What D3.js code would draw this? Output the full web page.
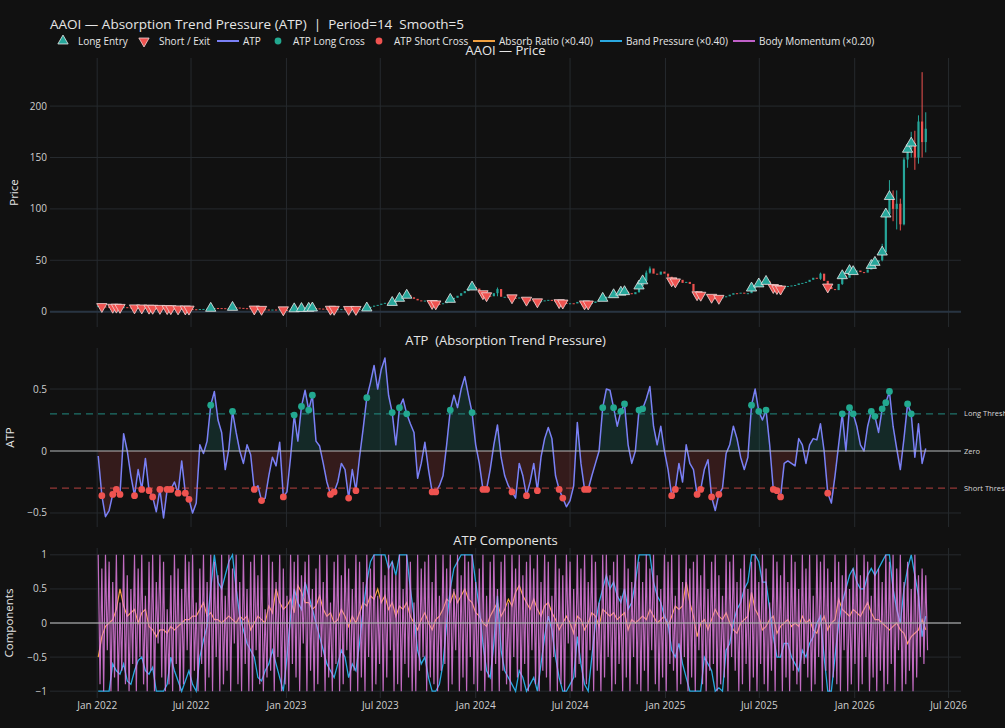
<!DOCTYPE html>
<html>
<head>
<meta charset="utf-8">
<script src="https://cdn.jsdelivr.net/npm/d3@7"></script>
<style>
html, body { margin: 0; padding: 0; background: #111111; }
svg { display: block; font-family: "Open Sans", Verdana, Arial, sans-serif; }
</style>
</head>
<body>
<svg id="chart" width="1005" height="728"></svg>
<script>
// ---- data (weekly samples, first week 2022-01-03) ----
var firstWeek = Date.UTC(2022, 0, 3);

var priceClose = [
  5.5,5.0,4.8,4.5,4.3,4.4,4.2,4.4,4.1,3.9,
  3.7,3.8,3.6,3.7,3.4,3.3,3.1,3.2,2.9,3.0,
  2.9,2.8,2.7,2.8,2.6,2.5,2.4,2.3,2.6,2.7,
  2.9,3.3,3.6,3.5,3.4,3.2,3.6,4.2,4.0,3.7,
  3.4,3.3,3.0,2.6,2.5,2.3,2.1,2.0,2.1,2.0,
  2.1,1.8,1.7,2.0,2.8,2.7,3.1,3.4,3.3,3.6,
  3.2,3.0,2.8,2.6,2.4,2.3,2.4,2.5,2.4,2.2,
  2.3,2.2,2.6,3.0,3.6,4.8,5.9,6.6,7.8,8.6,
  8.2,9.0,10.5,13,14.5,16,14,12.5,11,10.5,
  10.8,9.5,8,7.6,7.4,8.2,9.8,12,13.5,15.5,
  18,20,22,24,22.5,20,17.5,15.5,15,18,
  22,14.5,14.5,14,13.5,13,13.8,12.5,11.2,11,
  10.5,9.6,10.2,11,11.5,10.5,9.6,8.8,8.4,8.0,
  8.2,8.0,9.5,8.5,7.6,7.5,8.5,10,11.5,13,
  14.5,15,16.5,17.5,19,19.5,18,17,19,25,
  30,38,42,37,36,39,37,34,30,29,
  31,28,29,27,20,16.5,16,17,15.5,14,
  12,13,14,15,16.5,18,17.5,18.5,17.5,18,
  23,25,27,26.5,29.5,27,23.5,22.5,22,24,
  25,25.5,26,27.5,28,29,31,33,32,37,
  30,24,22,21,27,35,33,40,39,40,
  38.5,38,41,45,48,50,58,95,112,100,
  105,85,148,158,164,150,185,165,178
];

// [week index, high, low] for candles with visible wicks
var priceWicks = [
  [110,23.5,15],[149,26,18.5],[151,40,29],[152,44,37],[199,38,31],[205,36.5,26],
  [216,66,49],[217,100,60],[218,128,92],[219,118,88],[220,118,80],[221,110,79],
  [222,150,84],[223,162,140],[224,175,150],[225,176,138],[226,191,144],[227,233,150],[228,194,155]
];

var atpValues = [
  -0.04,-0.36,-0.53,-0.48,-0.35,-0.31,-0.35,0.14,0.0,-0.2,
  -0.36,-0.15,-0.31,-0.06,-0.32,-0.37,-0.49,-0.31,-0.54,-0.31,
  -0.31,-0.25,-0.34,-0.08,-0.34,-0.39,-0.5,-0.42,0.05,-0.02,
  0.08,0.37,0.48,0.25,0.15,-0.15,0.02,0.32,0.15,0.0,
  -0.1,0.05,-0.03,-0.31,-0.28,-0.4,-0.38,-0.2,-0.05,-0.12,
  0.07,-0.37,-0.33,-0.05,0.29,0.08,0.36,0.49,0.33,0.45,
  0.08,0.04,-0.1,-0.25,-0.35,-0.33,-0.25,-0.1,-0.15,-0.38,
  -0.15,-0.32,-0.05,0.18,0.43,0.55,0.69,0.5,0.66,0.75,
  0.45,0.31,0.05,0.35,0.42,0.3,0.22,0.15,-0.22,-0.1,
  0.07,-0.15,-0.33,-0.33,-0.28,-0.2,0.05,0.33,0.45,0.35,
  0.5,0.6,0.45,0.31,0.05,-0.1,-0.31,-0.31,-0.15,0.05,
  0.21,-0.05,-0.2,-0.28,-0.33,-0.38,-0.1,-0.2,-0.36,-0.25,
  -0.1,-0.32,-0.05,0.1,0.19,0.1,-0.2,-0.31,-0.38,-0.45,
  -0.4,-0.28,0.23,-0.1,-0.31,-0.31,-0.2,-0.1,0.0,0.35,
  0.5,0.49,0.35,0.2,0.32,0.38,0.05,-0.1,0.0,0.33,
  0.34,0.42,0.52,0.2,0.05,0.2,0.0,-0.15,-0.36,-0.31,
  -0.1,-0.25,0.05,-0.1,-0.15,-0.35,-0.31,-0.15,-0.07,-0.37,
  -0.48,-0.35,-0.3,-0.02,0.05,0.2,0.1,-0.05,-0.15,-0.05,
  0.37,0.5,0.32,0.25,0.33,0.05,-0.31,-0.32,-0.37,-0.1,
  -0.08,-0.1,-0.12,0.1,0.05,-0.1,0.05,0.1,0.09,0.22,
  0.0,-0.34,-0.42,-0.2,0.05,0.3,0.0,0.35,0.3,0.2,
  0.05,0.0,0.2,0.32,0.28,0.15,0.34,0.39,0.48,0.2,
  0.02,-0.15,0.1,0.38,0.3,-0.05,0.22,-0.1,0.02
];

var longCrossIdx = [31,37,54,56,58,59,74,81,83,85,97,103,139,142,144,145,149,150,
  180,182,184,205,207,208,213,214,216,217,218,223,224];
var shortCrossIdx = [1,4,5,6,10,12,14,15,17,19,20,22,24,25,43,45,51,64,65,69,71,92,93,
  106,107,114,118,121,127,128,134,135,158,159,165,166,169,171,186,187,188,201];

var atpLevels = [0.3, 0, -0.3];
var atpLevelLabels = ['Long Threshold', 'Zero', 'Short Threshold'];

var absorbRatio = [
  -0.5,-0.2,-0.05,0.0,0.05,0.2,0.5,0.25,0.1,0.15,
  0.2,0.0,0.15,0.2,-0.05,-0.1,-0.2,-0.1,-0.1,-0.15,
  -0.05,-0.1,-0.05,0.0,0.05,0.05,0.1,0.1,0.2,0.3,
  0.1,0.15,0.05,0.05,0.0,0.05,0.1,0.05,0.0,0.1,
  0.05,0.1,-0.1,0.0,0.1,0.05,0.0,0.25,0.15,0.5,
  0.3,0.2,0.25,0.35,0.15,0.55,0.45,0.3,0.3,0.2,
  0.25,0.4,0.2,0.1,0.15,0.0,0.05,0.2,0.1,-0.05,
  0.1,0.0,0.15,0.3,0.25,0.4,0.35,0.5,0.3,0.4,
  0.2,0.3,0.1,0.25,0.2,0.3,0.1,0.0,-0.1,0.05,
  0.15,0.0,-0.1,0.05,0.1,0.2,0.35,0.3,0.45,0.3,
  0.4,0.5,0.35,0.3,0.15,0.1,0.0,-0.05,0.1,0.2,
  0.3,0.1,0.2,0.35,0.25,0.45,0.55,0.4,0.3,0.2,
  0.35,0.2,0.1,0.25,0.3,0.15,0.05,-0.1,0.0,0.1,
  0.0,-0.15,0.1,0.05,-0.1,0.0,0.15,0.1,-0.05,0.2,
  0.15,0.1,0.15,0.05,0.1,0.15,-0.1,0.05,0.0,0.05,
  0.1,0.05,0.2,0.1,0.0,0.05,0.1,-0.05,0.1,0.25,
  0.2,0.25,0.6,0.3,0.1,-0.2,0.0,0.05,-0.1,0.05,
  0.2,0.1,0.05,0.15,0.0,-0.1,-0.15,0.0,0.05,0.1,
  0.45,0.2,0.1,-0.1,-0.05,0.05,0.1,-0.15,-0.05,0.0,
  0.05,-0.05,0.0,-0.05,0.1,0.0,0.05,-0.1,-0.15,0.0,
  0.1,-0.1,0.0,0.05,0.35,0.2,0.15,0.1,0.2,0.15,
  0.1,0.2,0.3,0.15,0.05,0.05,0.0,-0.05,-0.1,-0.05,
  0.0,-0.1,-0.15,-0.3,-0.2,-0.15,-0.1,0.05,-0.1
];

var bandPressure = [
  -1,-1,-1,-1,-0.6,-0.7,-0.75,-0.6,-0.85,-0.9,
  -0.7,-0.55,-0.5,-0.7,-0.75,-0.65,-1,-1,-1,-0.9,
  -0.5,-0.7,-0.85,-1,-0.85,-0.7,-0.9,-1,-0.5,-0.25,
  -0.05,0.5,1,0.6,0.5,0.7,0.9,1,0.5,0.1,
  -0.1,-0.3,-0.4,-0.5,-0.8,-0.85,-0.7,-0.6,-0.4,-0.6,
  -0.8,-1,-0.5,0.1,0.5,0.3,0.2,0.6,0.4,0.2,
  0.0,-0.2,-0.4,-0.6,-0.7,-0.8,-0.6,-0.4,-0.5,-0.8,
  -0.6,-0.7,-0.3,0.2,0.6,0.9,1,1,1,1,
  0.8,0.9,0.7,1,1,1,0.5,0.1,-0.4,-0.6,
  -0.5,-0.8,-1,-1,-0.9,-0.6,0.0,0.5,0.8,0.9,
  1,1,1,1,0.6,0.2,-0.3,-0.7,-0.8,-0.3,
  0.4,-0.4,-0.7,-0.8,-0.9,-1,-0.7,-0.8,-1,-0.9,
  -0.8,-1,-0.6,-0.2,0.1,-0.1,-0.5,-0.8,-1,-1,
  -0.9,-0.8,-0.2,-0.6,-0.9,-1,-0.5,0.0,0.3,0.5,
  0.7,0.5,0.6,0.4,0.3,0.5,0.2,0.3,0.6,1,
  1,1,1,0.6,0.4,0.3,0.1,0.0,-0.4,-0.5,
  -0.3,-0.6,-0.8,-1,-1,-1,-1,-0.5,-0.6,-0.7,
  -1,-0.95,-1,-0.4,-0.3,0.0,0.2,0.3,0.5,0.6,
  1,1,0.9,0.6,0.6,0.2,-0.2,-0.5,-0.5,-0.3,
  -0.3,-0.5,-0.6,-0.7,-0.4,-0.5,-0.3,-0.2,0.0,0.1,
  -0.5,-1,-1,-0.5,0.0,0.3,0.5,0.7,0.8,0.6,
  0.5,0.5,0.7,0.8,0.7,0.8,0.9,1,1,0.5,
  0.2,0.0,0.5,0.8,1,0.7,0.4,-0.2,0.1
];

// twice a week
var bodyMomentum = [
  1,-0.9,0.8,-1,1,-0.4,0.9,-1,0.6,-0.8,1,-1,0.3,-0.7,1,-0.9,0.7,-1,0.5,-0.6,
  1,-1,0.8,-0.5,1,-0.9,0.4,-1,0.9,-0.7,1,-1,0.6,-0.3,1,-0.8,0.9,-1,0.2,-0.9,
  0.7,-1,1,-0.6,0.8,-1,0.5,-0.9,1,-0.4,0.9,-1,1,-0.7,0.3,-1,0.8,-0.6,1,-1,
  0.6,-0.8,1,-1,0.9,-0.5,0.7,-1,1,-0.9,0.4,-0.7,1,-1,0.8,-0.3,1,-0.9,0.6,-1,
  1,-0.6,0.5,-1,0.9,-1,1,-0.4,0.7,-0.9,1,-1,0.2,-0.8,1,-0.7,0.9,-1,0.6,-0.5,
  1,-1,0.8,-0.9,0.4,-1,1,-0.6,0.9,-0.8,1,-1,0.7,-0.3,0.9,-1,1,-0.7,0.5,-1,
  0.8,-0.9,1,-0.5,0.6,-1,1,-0.8,0.3,-1,0.9,-0.6,1,-1,0.7,-0.9,1,-0.4,0.8,-1,
  0.5,-0.7,1,-1,0.9,-0.8,0.6,-1,1,-0.5,0.8,-1,1,-0.9,0.4,-0.6,1,-1,0.7,-0.8,
  1,-0.4,0.9,-1,0.7,-0.9,1,-1,0.5,-0.6,1,-0.8,0.9,-1,0.3,-1,1,-0.7,0.8,-0.5,
  0.9,-1,1,-0.8,0.6,-0.9,1,-1,0.4,-0.7,1,-0.6,0.8,-1,1,-0.9,0.5,-0.4,1,-1,
  0.7,-0.8,1,-1,0.9,-0.5,1,-0.9,0.6,-1,0.8,-0.7,1,-1,0.4,-0.8,0.9,-1,1,-0.6,
  0.5,-1,0.9,-0.7,1,-0.9,0.3,-1,1,-0.5,0.8,-0.8,1,-1,0.7,-0.6,0.9,-1,1,-0.4,
  0.8,-0.9,1,-1,0.6,-0.7,1,-0.8,0.9,-1,0.4,-0.5,1,-1,0.8,-0.9,0.7,-1,1,-0.3,
  0.9,-1,0.5,-0.8,1,-0.6,0.8,-1,1,-0.9,0.6,-0.4,1,-1,0.9,-0.7,0.3,-1,1,-0.8,
  1,-0.5,0.7,-1,0.9,-0.9,1,-0.6,0.4,-1,1,-0.8,0.8,-1,0.6,-0.5,1,-0.9,0.9,-1,
  0.6,-0.7,1,-1,0.8,-0.4,1,-0.9,0.7,-1,0.5,-0.8,1,-1,0.9,-0.6,1,-0.7,0.4,-1,
  1,-0.9,0.6,-0.5,1,-1,0.8,-0.8,0.9,-1,1,-0.4,0.7,-0.9,1,-1,0.5,-0.7,0.9,-0.6,
  1,-1,0.7,-0.9,0.4,-0.8,1,-1,0.9,-0.5,1,-0.7,0.6,-1,0.8,-0.9,1,-0.6,0.5,-1,
  0.9,-0.8,1,-1,0.6,-0.6,1,-0.9,0.8,-1,0.3,-0.7,1,-1,0.9,-0.5,0.7,-1,1,-0.8,
  0.6,-1,1,-0.7,0.9,-0.9,0.5,-1,1,-0.6,0.8,-0.8,1,-1,0.4,-0.9,1,-0.5,0.9,-1,
  1,-0.7,0.8,-1,0.6,-0.8,1,-0.9,0.9,-1,0.7,-0.4,1,-1,0.5,-0.9,0.8,-0.6,1,-1,
  0.7,-0.9,1,-0.5,0.9,-1,0.4,-0.8,1,-1,0.8,-0.7,0.6,-1,1,-0.9,0.9,-0.6,1,-1,
  0.8,-0.4,1,-1,0.6,-0.9,0.9,-0.7,0.5,-1,1,-0.8,0.7,-0.5,0.8,-0.6,0.7,-0.4
];

var priceTicks = [0, 50, 100, 150, 200];
var atpTicks = [-0.5, 0, 0.5];
var compTicks = [-1, -0.5, 0, 0.5, 1];

// ---- layout ----
var LEFT = 50, RIGHT = 961;
var PRICE_TOP = 58, PRICE_BOTTOM = 327;
var ATP_TOP = 348, ATP_BOTTOM = 527;
var COMP_TOP = 548, COMP_BOTTOM = 698;

var INC = '#26a69a', DEC = '#ef5350';
var ATP_COLOR = '#7a80f5';
var ABSORB_COLOR = '#f0a040', BAND_COLOR = '#2aa8e0', BODY_COLOR = '#ee82ee';
var GRID = '#262a2e', TEXT = '#e6e6e6', TICK = '#cfcfcf';

var weekDates = priceClose.map(function(d, i) { return d3.utcDay.offset(new Date(firstWeek), 7 * i); });
var bodyDates = bodyMomentum.map(function(d, i) { return d3.utcHour.offset(new Date(firstWeek), 84 * i); });

var x = d3.scaleUtc()
    .domain([new Date(Date.UTC(2021, 9, 2)), new Date(Date.UTC(2026, 6, 25))])
    .range([LEFT, RIGHT]);
var yPrice = d3.scaleLinear().domain([-14.9, 246.8]).range([PRICE_BOTTOM, PRICE_TOP]);
var yAtp = d3.scaleLinear().domain([-0.613, 0.831]).range([ATP_BOTTOM, ATP_TOP]);
var yComp = d3.scaleLinear().domain([-1.1, 1.1]).range([COMP_BOTTOM, COMP_TOP]);

var xTicks = d3.utcMonth.range(new Date(Date.UTC(2022, 0, 1)), new Date(Date.UTC(2026, 7, 1)), 6);
var fmtNum = d3.format('');

var svg = d3.select('#chart');
svg.append('rect').attr('width', 1005).attr('height', 728).attr('fill', '#111111');

var defs = svg.append('defs');
var addClip = function(id, top, bottom) {
    defs.append('clipPath').attr('id', id).append('rect')
        .attr('x', LEFT).attr('y', top).attr('width', RIGHT - LEFT).attr('height', bottom - top);
};
addClip('clipPrice', PRICE_TOP, PRICE_BOTTOM);
addClip('clipAtp', ATP_TOP, ATP_BOTTOM);
addClip('clipComp', COMP_TOP, COMP_BOTTOM);
addClip('clipAtpPos', ATP_TOP, yAtp(0));
addClip('clipAtpNeg', yAtp(0), ATP_BOTTOM);

// ---- grids and y ticks ----
var drawGrid = function(yScale, ticks, top, bottom) {
    var g = svg.append('g');
    xTicks.forEach(function(t) {
        g.append('line')
            .attr('x1', x(t)).attr('x2', x(t)).attr('y1', top).attr('y2', bottom)
            .attr('stroke', GRID).attr('stroke-width', 1);
    });
    ticks.forEach(function(t) {
        g.append('line')
            .attr('x1', LEFT).attr('x2', RIGHT).attr('y1', yScale(t)).attr('y2', yScale(t))
            .attr('stroke', GRID).attr('stroke-width', 1);
        g.append('text')
            .attr('x', 47).attr('y', yScale(t)).attr('dy', '0.35em')
            .attr('text-anchor', 'end')
            .style('font-size', '10px')
            .attr('fill', TICK)
            .text(fmtNum(t));
    });
};
drawGrid(yPrice, priceTicks, PRICE_TOP, PRICE_BOTTOM);
drawGrid(yAtp, atpTicks, ATP_TOP, ATP_BOTTOM);
drawGrid(yComp, compTicks, COMP_TOP, COMP_BOTTOM);

// x tick labels (shared axis, bottom panel only)
xTicks.forEach(function(t) {
    svg.append('text')
        .attr('x', x(t)).attr('y', 708.5)
        .attr('text-anchor', 'middle')
        .style('font-size', '10px')
        .attr('fill', TICK)
        .text(d3.utcFormat('%b %Y')(t));
});

// price zero line
svg.append('line')
    .attr('x1', LEFT).attr('x2', RIGHT).attr('y1', yPrice(0)).attr('y2', yPrice(0))
    .attr('stroke', '#283442').attr('stroke-width', 2);

// ---- price candles ----
var gPrice = svg.append('g').attr('clip-path', 'url(#clipPrice)');
var wickMap = {};
priceWicks.forEach(function(w) { wickMap[w[0]] = w; });

priceClose.forEach(function(c, i) {
    var o = i > 0 ? priceClose[i - 1] : c;
    var col = c >= o ? INC : DEC;
    var cx = x(weekDates[i]);
    if (wickMap[i]) {
        gPrice.append('line')
            .attr('x1', cx).attr('x2', cx)
            .attr('y1', yPrice(wickMap[i][1])).attr('y2', yPrice(wickMap[i][2]))
            .attr('stroke', col).attr('stroke-width', 1);
    }
    var top = yPrice(Math.max(o, c));
    var h = Math.max(1, yPrice(Math.min(o, c)) - top);
    gPrice.append('rect')
        .attr('x', cx - 1.1).attr('y', top)
        .attr('width', 2.2).attr('height', h)
        .attr('fill', col);
});

var triangle = d3.symbol().type(d3.symbolTriangle).size(46);
longCrossIdx.forEach(function(i) {
    gPrice.append('path')
        .attr('d', triangle)
        .attr('transform', 'translate(' + x(weekDates[i]) + ',' + yPrice(priceClose[i]) + ')')
        .attr('fill', INC).attr('stroke', '#e8e8e8').attr('stroke-width', 0.8);
});
shortCrossIdx.forEach(function(i) {
    gPrice.append('path')
        .attr('d', triangle)
        .attr('transform', 'translate(' + x(weekDates[i]) + ',' + yPrice(priceClose[i]) + ') rotate(180)')
        .attr('fill', DEC).attr('stroke', '#f3d6d6').attr('stroke-width', 0.8);
});

// ---- ATP panel ----
var gAtp = svg.append('g').attr('clip-path', 'url(#clipAtp)');
var atpArea = d3.area()
    .x(function(d, i) { return x(weekDates[i]); })
    .y0(yAtp(0))
    .y1(function(d) { return yAtp(d); });
var atpLine = d3.line()
    .x(function(d, i) { return x(weekDates[i]); })
    .y(function(d) { return yAtp(d); });

gAtp.append('path').datum(atpValues)
    .attr('d', atpArea).attr('clip-path', 'url(#clipAtpPos)')
    .attr('fill', 'rgba(38,166,154,0.16)');
gAtp.append('path').datum(atpValues)
    .attr('d', atpArea).attr('clip-path', 'url(#clipAtpNeg)')
    .attr('fill', 'rgba(239,83,80,0.16)');

var levelStyle = [
    { color: 'rgba(38,166,154,0.65)', dash: '7,5', width: 1.3 },
    { color: 'rgba(190,190,190,0.6)', dash: null, width: 1.6 },
    { color: 'rgba(239,83,80,0.6)', dash: '7,5', width: 1.3 }
];
atpLevels.forEach(function(v, k) {
    svg.append('line')
        .attr('x1', LEFT).attr('x2', RIGHT).attr('y1', yAtp(v)).attr('y2', yAtp(v))
        .attr('stroke', levelStyle[k].color)
        .attr('stroke-width', levelStyle[k].width)
        .attr('stroke-dasharray', levelStyle[k].dash);
    svg.append('text')
        .attr('x', 964).attr('y', yAtp(v)).attr('dy', '0.35em')
        .style('font-size', '7.5px')
        .attr('fill', '#d8d8d8')
        .text(atpLevelLabels[k]);
});

gAtp.append('path').datum(atpValues)
    .attr('d', atpLine)
    .attr('fill', 'none').attr('stroke', ATP_COLOR).attr('stroke-width', 1.5)
    .attr('stroke-linejoin', 'round');

longCrossIdx.forEach(function(i) {
    gAtp.append('circle')
        .attr('cx', x(weekDates[i])).attr('cy', yAtp(atpValues[i])).attr('r', 3.4)
        .attr('fill', '#22a88f');
});
shortCrossIdx.forEach(function(i) {
    gAtp.append('circle')
        .attr('cx', x(weekDates[i])).attr('cy', yAtp(atpValues[i])).attr('r', 3.4)
        .attr('fill', DEC);
});

// ---- components panel ----
var gComp = svg.append('g').attr('clip-path', 'url(#clipComp)');
var weekLine = function(yScale) {
    return d3.line().x(function(d, i) { return x(weekDates[i]); }).y(function(d) { return yScale(d); });
};
gComp.append('path').datum(absorbRatio)
    .attr('d', weekLine(yComp))
    .attr('fill', 'none').attr('stroke', ABSORB_COLOR).attr('stroke-width', 1.2);
gComp.append('path').datum(bandPressure)
    .attr('d', weekLine(yComp))
    .attr('fill', 'none').attr('stroke', BAND_COLOR).attr('stroke-width', 1.3);
gComp.append('path').datum(bodyMomentum)
    .attr('d', d3.line()
        .x(function(d, i) { return x(bodyDates[i]); })
        .y(function(d) { return yComp(d); }))
    .attr('fill', 'none').attr('stroke', BODY_COLOR).attr('stroke-width', 1.2)
    .attr('stroke-opacity', 0.8);

svg.append('line')
    .attr('x1', LEFT).attr('x2', RIGHT).attr('y1', yComp(0)).attr('y2', yComp(0))
    .attr('stroke', 'rgba(170,170,170,0.6)').attr('stroke-width', 1.8);

// ---- titles ----
svg.append('text')
    .attr('x', 50).attr('y', 29)
    .style('font-size', '13.5px').style('white-space', 'pre')
    .attr('fill', TEXT)
    .text('AAOI \u2014 Absorption Trend Pressure (ATP)  |  Period=14  Smooth=5');

var subTitles = [
    { text: 'AAOI \u2014 Price', y: 55 },
    { text: 'ATP  (Absorption Trend Pressure)', y: 345 },
    { text: 'ATP Components', y: 545 }
];
subTitles.forEach(function(s) {
    svg.append('text')
        .attr('x', (LEFT + RIGHT) / 2).attr('y', s.y)
        .attr('text-anchor', 'middle')
        .style('font-size', '13px').style('white-space', 'pre')
        .attr('fill', TEXT)
        .text(s.text);
});

var axisTitles = [
    { text: 'Price', x: 14, y: (PRICE_TOP + PRICE_BOTTOM) / 2 },
    { text: 'ATP', x: 10, y: (ATP_TOP + ATP_BOTTOM) / 2 },
    { text: 'Components', x: 9, y: (COMP_TOP + COMP_BOTTOM) / 2 }
];
axisTitles.forEach(function(a) {
    svg.append('text')
        .attr('transform', 'translate(' + a.x + ',' + a.y + ') rotate(-90)')
        .attr('dy', '0.35em')
        .attr('text-anchor', 'middle')
        .style('font-size', '11.5px')
        .attr('fill', TEXT)
        .text(a.text);
});

// ---- legend ----
var LEG_Y = 41;
var lg = svg.append('g').style('font-size', '10px').attr('fill', TEXT);
lg.append('path').attr('d', triangle)
    .attr('transform', 'translate(63,' + LEG_Y + ')')
    .attr('fill', INC).attr('stroke', '#e8e8e8').attr('stroke-width', 0.8);
lg.append('text').attr('x', 78).attr('y', LEG_Y).attr('dy', '0.35em').text('Long Entry');
lg.append('path').attr('d', triangle)
    .attr('transform', 'translate(144,' + LEG_Y + ') rotate(180)')
    .attr('fill', DEC).attr('stroke', '#f3d6d6').attr('stroke-width', 0.8);
lg.append('text').attr('x', 159).attr('y', LEG_Y).attr('dy', '0.35em').text('Short / Exit');

var legendLine = function(x1, color, label) {
    lg.append('line').attr('x1', x1).attr('x2', x1 + 22).attr('y1', LEG_Y).attr('y2', LEG_Y)
        .attr('stroke', color).attr('stroke-width', 2);
    lg.append('text').attr('x', x1 + 26).attr('y', LEG_Y).attr('dy', '0.35em').text(label);
};
legendLine(217, ATP_COLOR, 'ATP');
lg.append('circle').attr('cx', 278).attr('cy', LEG_Y).attr('r', 3.4).attr('fill', '#22a88f');
lg.append('text').attr('x', 293).attr('y', LEG_Y).attr('dy', '0.35em').text('ATP Long Cross');
lg.append('circle').attr('cx', 379).attr('cy', LEG_Y).attr('r', 3.4).attr('fill', DEC);
lg.append('text').attr('x', 394).attr('y', LEG_Y).attr('dy', '0.35em').text('ATP Short Cross');
legendLine(473, ABSORB_COLOR, 'Absorb Ratio (\u00d70.40)');
legendLine(600, BAND_COLOR, 'Band Pressure (\u00d70.40)');
legendLine(733, '#c060c8', 'Body Momentum (\u00d70.20)');
</script>
</body>
</html>
